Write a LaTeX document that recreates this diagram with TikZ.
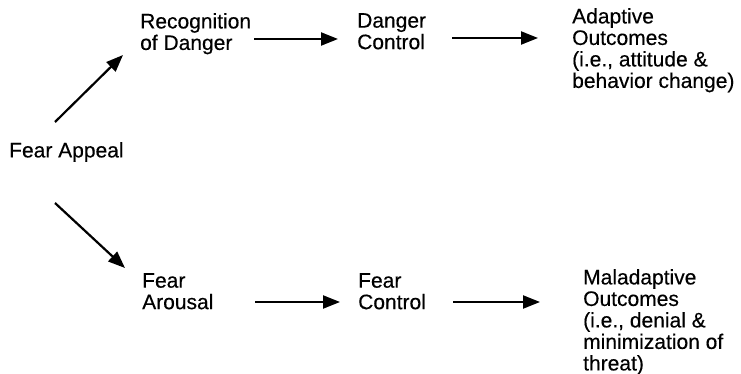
\documentclass[tikz,border=0pt]{standalone}
\usepackage{fontspec}
\setmainfont{Liberation Sans}
\newfontfamily\lblfont{Liberation Sans}[FakeBold=0.35]
\usetikzlibrary{arrows.meta,calc}
\begin{document}
\begin{tikzpicture}[x=1pt,y=-1pt,
  label/.style={anchor=north west,inner sep=0pt,align=left,
    font=\lblfont\fontsize{21}{21.5}\selectfont},
  arr/.style={line width=2.2pt,-{Triangle[length=17pt,width=13pt]}}]
  \useasboundingbox (0,0) rectangle (741,374);

  % stages
  \node[label] (fa)  at (9,142)   {Fear Appeal};
  \node[label] (rec) at (140,13)  {Recognition\\of Danger};
  \node[label] (dc)  at (357,13)  {Danger\\Control};
  \node[label] (ad)  at (572,8)   {Adaptive\\Outcomes\\(i.e., attitude \&\\behavior change)};
  \node[label] (far) at (142,273) {Fear\\Arousal};
  \node[label] (fc)  at (358,273) {Fear\\Control};
  \node[label] (mal) at (583,269) {Maladaptive\\Outcomes\\(i.e., denial \&\\minimization of\\threat)};

  % danger branch
  \draw[arr] ($(fa.north west)+(46,-20)$) -- ($(rec.north west)+(-17,42)$);
  \draw[arr] ($(rec.north west)+(114,26)$) -- ($(dc.north west)+(-19,26)$);
  \draw[arr] ($(dc.north west)+(95,25)$) -- ($(ad.north west)+(-34,30)$);

  % fear branch
  \draw[arr] ($(fa.north west)+(46,61)$) -- ($(far.north west)+(-17,-5)$);
  \draw[arr] ($(far.north west)+(113,29)$) -- ($(fc.north west)+(-18,29)$);
  \draw[arr] ($(fc.north west)+(95,29)$) -- ($(mal.north west)+(-43,33)$);
\end{tikzpicture}
\end{document}
